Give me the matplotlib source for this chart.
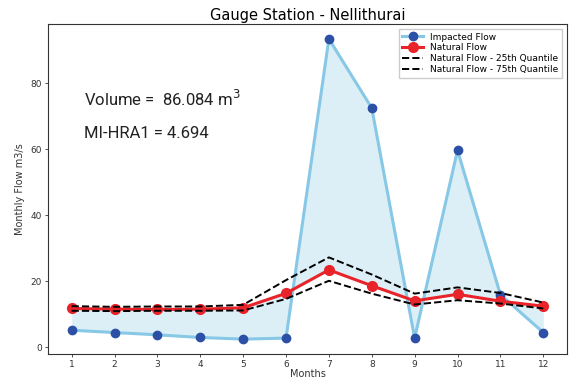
import matplotlib
matplotlib.use("Agg")
import matplotlib.pyplot as plt
import numpy as np

# Monthly flows at Nellithurai gauge (m3/s)
months = np.arange(1, 13)
impacted_flow = [5.1, 4.4, 3.7, 2.9, 2.4, 2.7, 93.5, 72.5, 2.7, 59.7, 15.9, 4.4]
natural_flow = [11.7, 11.5, 11.4, 11.5, 11.9, 16.3, 23.4, 18.6, 14.0, 16.0, 13.9, 12.4]
natural_q25 = [11.0, 10.9, 11.0, 11.0, 11.1, 14.6, 20.1, 16.2, 12.9, 14.2, 13.2, 11.7]
natural_q75 = [12.4, 12.2, 12.3, 12.3, 12.8, 20.3, 27.2, 22.0, 16.2, 18.1, 16.4, 13.5]

volume = 86.084
mi_hra1 = 4.694

fig, ax = plt.subplots(figsize=(5.72, 3.81), dpi=100)
fig.subplots_adjust(left=0.084, right=0.991, top=0.936, bottom=0.071)

# Shade the gap between impacted and natural flow
ax.fill_between(months, impacted_flow, natural_flow, color="#d9eef6", alpha=0.9, linewidth=0)

ax.plot(months, impacted_flow, color="#87c8e6", linewidth=2.2, marker="o",
        markersize=6, markerfacecolor="#2b50a6", markeredgecolor="#2b50a6",
        label="Impacted Flow")
ax.plot(months, natural_flow, color="#e8232a", linewidth=2.2, marker="o",
        markersize=7, label="Natural Flow")
ax.plot(months, natural_q25, color="black", linestyle="--", linewidth=1.4,
        label="Natural Flow - 25th Quantile")
ax.plot(months, natural_q75, color="black", linestyle="--", linewidth=1.4,
        label="Natural Flow - 75th Quantile")

ax.set_ylim(-2.1, 97.9)
ax.set_xticks(months)
ax.tick_params(labelsize=6.5, length=2.5, width=0.6, pad=2, colors="#333333")
ax.set_yticks([0, 20, 40, 60, 80])
for s in ax.spines.values():
    s.set_linewidth(0.8)
    s.set_color("#333333")

ax.set_xlabel("Months", fontsize=7, labelpad=0, color="#333333")
ax.set_ylabel("Monthly Flow m3/s", fontsize=7, labelpad=4, color="#333333")
ax.set_title("Gauge Station - Nellithurai", fontsize=10.5, pad=3)

ax.text(0.069, 0.752, "Volume =  {:.3f} m$^3$".format(volume), transform=ax.transAxes,
        fontsize=12, family="Roboto", color="#222222")
ax.text(0.069, 0.655, "MI-HRA1 = {:.3f}".format(mi_hra1), transform=ax.transAxes,
        fontsize=12, family="Roboto", color="#222222")

ax.legend(loc="upper right", fontsize=6.5, handlelength=2.3, borderpad=0.4,
          labelspacing=0.2, framealpha=1, fancybox=False, edgecolor="#cccccc")

plt.savefig("out.png", dpi=100)
